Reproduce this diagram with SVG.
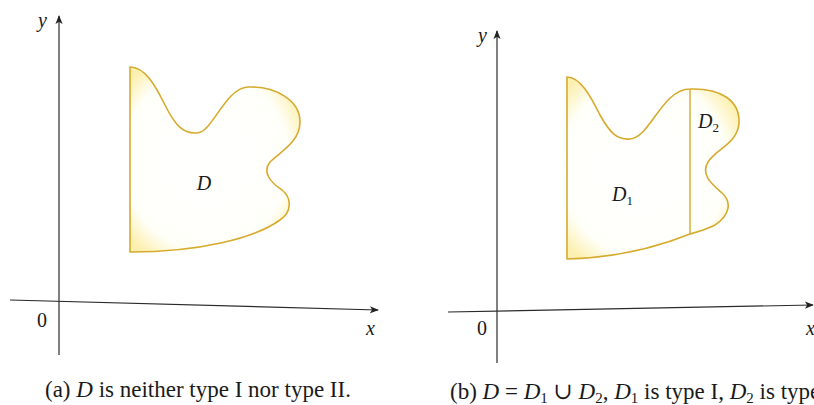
<svg xmlns="http://www.w3.org/2000/svg" width="814" height="405" viewBox="0 0 814 405">
<defs>
<radialGradient id="fillA" cx="0.45" cy="0.5" r="0.62">
<stop offset="0" stop-color="#ffffff"/>
<stop offset="0.78" stop-color="#fffffa"/>
<stop offset="1" stop-color="#fcf0b0"/>
</radialGradient>
<marker id="arr" viewBox="0 0 10 10" refX="9" refY="5" markerWidth="9" markerHeight="9" markerUnits="userSpaceOnUse" orient="auto">
<path d="M0,1 L10,5 L0,9 L2.5,5 Z" fill="#222"/>
</marker>
<style>
.axis{stroke:#2a2a2a;stroke-width:1.2;fill:none}
.region{fill:url(#fillA);stroke:#d6aa2c;stroke-width:1.6;stroke-linejoin:round}
.div{stroke:#d6aa2c;stroke-width:1.4;fill:none}
.lab{font-family:"Liberation Serif","DejaVu Serif",serif;font-size:20px;fill:#1a1a1a}
.it{font-style:italic}
.cap{font-family:"Liberation Serif","DejaVu Serif",serif;font-size:23px;fill:#1a1a1a}
</style>
</defs>
<g id="axes">
<line class="axis" x1="59" y1="355" x2="59" y2="16" marker-end="url(#arr)"/>
<line class="axis" x1="10" y1="300" x2="378" y2="310" marker-end="url(#arr)"/>
<line class="axis" x1="497" y1="363" x2="497" y2="31" marker-end="url(#arr)"/>
<line class="axis" x1="448" y1="312" x2="813" y2="305" marker-end="url(#arr)"/>
</g>
<g id="regionA">
<path class="region" d="M130,67 C145,67 155,85 165,105 C175,125 183,134 197,133 C213,132 225,88 248,87 C275,86 300,100 300,122 C300,142 280,152 270,162 C262,172 270,182 282,190 C292,198 292,212 280,220 C255,238 200,252 130,252 Z"/>
<text class="lab it" x="204" y="190" text-anchor="middle">D</text>
</g>
<g id="regionB">
<path class="region" d="M567,77 C580,77 590,95 600,115 C610,133 617,140 630,139 C650,138 662,89 690,89 C720,88 740,100 739,123 C738,143 715,150 708,162 C700,175 713,185 722,193 C732,202 730,215 715,225 C705,230 697,232 690,234 C650,250 610,258 567,259 Z"/>
<line class="div" x1="690" y1="89" x2="690" y2="234"/>
<text class="lab it" x="612" y="201">D<tspan style="font-style:normal" font-size="13" dy="4">1</tspan></text>
<text class="lab it" x="698" y="128">D<tspan style="font-style:normal" font-size="13" dy="4">2</tspan></text>
</g>
<g id="labels">
<text class="lab it" x="38" y="27">y</text>
<text class="lab" x="37" y="327">0</text>
<text class="lab it" x="366" y="335">x</text>
<text class="lab it" x="478" y="42">y</text>
<text class="lab" x="477" y="335">0</text>
<text class="lab it" x="806" y="335">x</text>
</g>
<g id="captions">
<text class="cap" x="45" y="397">(a) <tspan font-style="italic">D</tspan> is neither type I nor type II.</text>
<text class="cap" x="450" y="399">(b)  <tspan font-style="italic">D</tspan> = <tspan font-style="italic">D</tspan><tspan font-size="15" dy="4">1</tspan><tspan dy="-4"> ∪ </tspan><tspan font-style="italic">D</tspan><tspan font-size="15" dy="4">2</tspan><tspan dy="-4">, </tspan><tspan font-style="italic">D</tspan><tspan font-size="15" dy="4">1</tspan><tspan dy="-4"> is type I, </tspan><tspan font-style="italic">D</tspan><tspan font-size="15" dy="4">2</tspan><tspan dy="-4"> is type II.</tspan></text>
</g>
</svg>
